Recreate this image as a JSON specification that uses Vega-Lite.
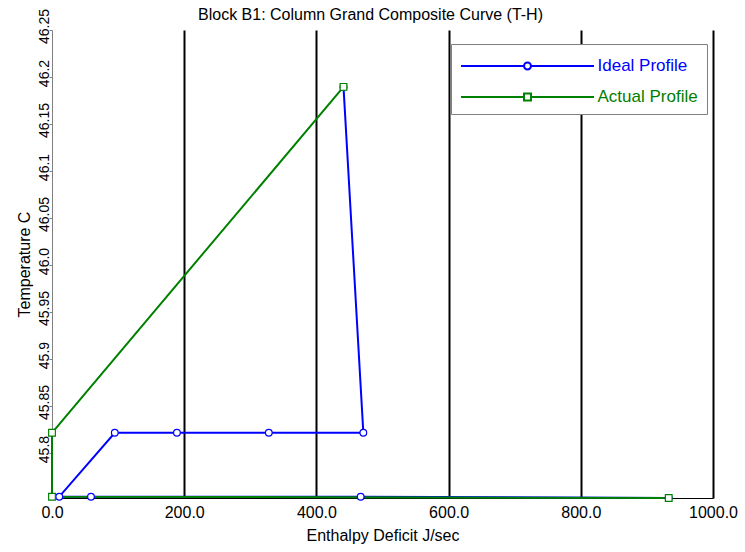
{
  "$schema": "https://vega.github.io/schema/vega-lite/v6.json",
  "width": 661,
  "height": 468,
  "autosize": {"type": "none"},
  "padding": {"left": 52, "top": 30, "right": 32, "bottom": 54},
  "background": "white",
  "title": {
    "text": "Block B1: Column Grand Composite Curve (T-H)",
    "font": "Liberation Sans",
    "fontSize": 16,
    "fontWeight": "normal",
    "color": "black",
    "offset": -15,
    "dx": -12
  },
  "config": {
    "view": {"stroke": null},
    "font": "Liberation Sans"
  },
  "data": {
    "values": [
      {"series": "Ideal Profile", "seq": 1, "h": 933, "t": 45.7522},
      {"series": "Ideal Profile", "seq": 2, "h": 467, "t": 45.7536},
      {"series": "Ideal Profile", "seq": 3, "h": 59, "t": 45.7536},
      {"series": "Ideal Profile", "seq": 4, "h": 11, "t": 45.7536},
      {"series": "Ideal Profile", "seq": 5, "h": 95, "t": 45.8216},
      {"series": "Ideal Profile", "seq": 6, "h": 189, "t": 45.8216},
      {"series": "Ideal Profile", "seq": 7, "h": 328, "t": 45.8216},
      {"series": "Ideal Profile", "seq": 8, "h": 471, "t": 45.8216},
      {"series": "Ideal Profile", "seq": 9, "h": 441, "t": 46.1895},
      {"series": "Actual Profile", "seq": 1, "h": 933, "t": 45.7522},
      {"series": "Actual Profile", "seq": 2, "h": 0, "t": 45.7536},
      {"series": "Actual Profile", "seq": 3, "h": 0, "t": 45.8216},
      {"series": "Actual Profile", "seq": 4, "h": 441, "t": 46.1895}
    ]
  },
  "encoding": {
    "x": {
      "field": "h",
      "type": "quantitative",
      "scale": {"domain": [0, 1000], "nice": false, "zero": false},
      "axis": {
        "title": "Enthalpy Deficit J/sec",
        "values": [0, 200, 400, 600, 800, 1000],
        "format": ".1f",
        "labelFont": "Liberation Sans",
        "labelFontSize": 16,
        "labelColor": "black",
        "labelPadding": 6,
        "labelFlush": false,
        "labelOverlap": false,
        "tickSize": 0,
        "domainColor": "black",
        "domainWidth": 1,
        "grid": true,
        "gridColor": "black",
        "gridWidth": 2,
        "gridOpacity": {"condition": {"test": "datum.value === 0", "value": 0}, "value": 1},
        "titleFont": "Liberation Sans",
        "titleFontSize": 16,
        "titleFontWeight": "normal",
        "titleColor": "black",
        "titlePadding": 7
      }
    },
    "y": {
      "field": "t",
      "type": "quantitative",
      "scale": {"domain": [45.7522, 46.25], "nice": false, "zero": false},
      "axis": {
        "title": "Temperature C",
        "values": [45.8, 45.85, 45.9, 45.95, 46.0, 46.05, 46.1, 46.15, 46.2, 46.25],
        "labelExpr": "datum.value == 46 ? '46.0' : format(datum.value, '.2~f')",
        "labelAngle": 270,
        "labelAlign": "center",
        "labelBaseline": "alphabetic",
        "labelOffset": -4,
        "labelFont": "Liberation Sans",
        "labelFontSize": 14,
        "labelColor": "black",
        "labelPadding": 1,
        "labelFlush": false,
        "labelOverlap": false,
        "tickSize": 3,
        "tickColor": "#808080",
        "domainColor": "#808080",
        "grid": false,
        "titleFont": "Liberation Sans",
        "titleFontSize": 16,
        "titleFontWeight": "normal",
        "titleColor": "black",
        "titlePadding": 5
      }
    }
  },
  "layer": [
    {
      "mark": {"type": "line", "strokeWidth": 2},
      "encoding": {
        "order": {"field": "seq", "type": "quantitative"},
        "color": {
          "field": "series",
          "type": "nominal",
          "sort": ["Ideal Profile", "Actual Profile"],
          "scale": {"domain": ["Ideal Profile", "Actual Profile"], "range": ["#0000ff", "#008000"]},
          "legend": {
            "orient": "none",
            "legendX": 399,
            "legendY": 14,
            "title": null,
            "strokeColor": "#808080",
            "fillColor": "white",
            "padding": 9,
            "rowPadding": 10,
            "symbolType": {"expr": "datum.value == 'Ideal Profile' ? 'M-5.54,0L-0.29,0M0.29,0L5.54,0M0.29,0A0.29,0.29,0,1,1,-0.29,0A0.29,0.29,0,1,1,0.29,0Z' : 'M-5.54,0L-0.29,0M0.29,0L5.54,0M-0.29,-0.29L0.29,-0.29L0.29,0.29L-0.29,0.29Z'"},
            "symbolSize": 576,
            "symbolStrokeWidth": 2,
            "symbolFillColor": "white",
            "symbolOffset": 54.5,
            "labelOffset": 57,
            "labelFont": "Liberation Sans",
            "labelFontSize": 17,
            "labelColor": {"expr": "datum.value == 'Ideal Profile' ? '#0000ff' : '#008000'"}
          }
        }
      }
    },
    {
      "transform": [{"filter": "datum.series == 'Ideal Profile'"}],
      "mark": {"type": "point", "shape": "circle", "filled": false, "fill": "white", "stroke": "#0000ff", "fillOpacity": 1, "opacity": 1, "size": 45, "strokeWidth": 1.2}
    },
    {
      "transform": [{"filter": "datum.series == 'Actual Profile'"}],
      "mark": {"type": "point", "shape": "square", "filled": false, "fill": "white", "stroke": "#008000", "fillOpacity": 1, "opacity": 1, "size": 45, "strokeWidth": 1.2}
    }
  ]
}
